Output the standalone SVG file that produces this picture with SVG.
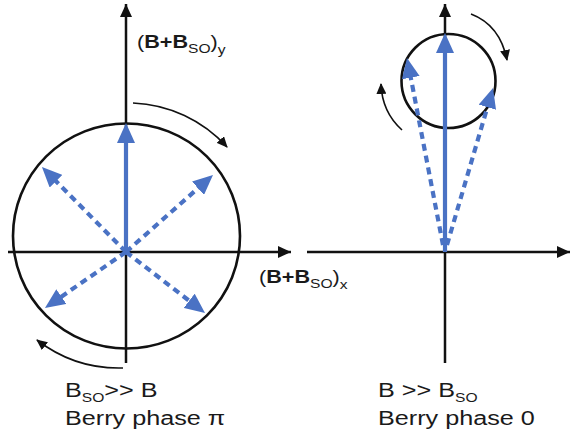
<svg xmlns="http://www.w3.org/2000/svg" width="571" height="440" viewBox="0 0 571 440">
<defs>
<style>
.ax{stroke:#111;stroke-width:2.5;fill:none}
.circ{stroke:#111;stroke-width:2.6;fill:none}
.vec{stroke:#4a72c4;stroke-width:4.2;fill:none}
.dash{stroke:#4a72c4;stroke-width:4.2;fill:none;stroke-dasharray:7 5}
.rot{stroke:#111;stroke-width:1.6;fill:none}
text{font-family:"Liberation Sans",Arial,sans-serif;fill:#1a1a1a}
.lbl{font-size:18px}
.big{font-size:21px}
.b{font-weight:bold}
</style>
<marker id="axh" markerUnits="userSpaceOnUse" markerWidth="14" markerHeight="12" refX="13" refY="6" orient="auto"><path d="M0,0 L13,6 L0,12 z" fill="#111"/></marker>
<marker id="bh" markerUnits="userSpaceOnUse" markerWidth="21" markerHeight="18" refX="10" refY="9" orient="auto"><path d="M0,0 L20,9 L0,18 z" fill="#4a72c4"/></marker>
<marker id="rh" markerUnits="userSpaceOnUse" markerWidth="12" markerHeight="10" refX="10" refY="5" orient="auto"><path d="M0,0 L11,5 L0,10 z" fill="#111"/></marker>
</defs>

<g id="left-panel">
  <g id="left-axes">
    <line class="ax" x1="126" y1="363" x2="126" y2="4" marker-end="url(#axh)"/>
    <line class="ax" x1="8" y1="252" x2="291" y2="252" marker-end="url(#axh)"/>
  </g>
  <g id="left-circle"><ellipse class="circ" cx="126.5" cy="236" rx="113.5" ry="112.5"/></g>
  <g id="left-vectors">
    <line class="vec" x1="126" y1="252" x2="126" y2="133" marker-end="url(#bh)"/>
    <line class="dash" x1="126" y1="252" x2="49" y2="174.1" marker-end="url(#bh)"/>
    <line class="dash" x1="126" y1="252" x2="205.5" y2="181.6" marker-end="url(#bh)"/>
    <line class="dash" x1="126" y1="252" x2="53.2" y2="302.3" marker-end="url(#bh)"/>
    <line class="dash" x1="126" y1="252" x2="197.1" y2="306.9" marker-end="url(#bh)"/>
  </g>
  <g id="left-rotation">
    <path class="rot" d="M133,103 A134,134 0 0 1 227,147" marker-end="url(#rh)"/>
    <path class="rot" d="M123,368 A134,134 0 0 1 37,340" marker-end="url(#rh)"/>
  </g>
  <g id="left-labels">
    <text class="lbl" transform="translate(137,48) scale(1.2,1)">(<tspan class="b">B+B</tspan><tspan font-size="13" dy="5">SO</tspan><tspan dy="-5">)</tspan><tspan font-size="13" dy="6">y</tspan></text>
    <text class="lbl" transform="translate(259,283) scale(1.2,1)">(<tspan class="b">B+B</tspan><tspan font-size="13" dy="5">SO</tspan><tspan dy="-5">)</tspan><tspan font-size="13" dy="6">x</tspan></text>
    <text class="big" transform="translate(65,397) scale(1.2,1)">B<tspan font-size="13" dy="5">SO</tspan><tspan dy="-5">&gt;&gt; B</tspan></text>
    <text class="big" transform="translate(65,425) scale(1.2,1)">Berry phase π</text>
  </g>
</g>

<g id="right-panel">
  <g id="right-axes">
    <line class="ax" x1="445" y1="363" x2="445" y2="4" marker-end="url(#axh)"/>
    <line class="ax" x1="307" y1="252" x2="570" y2="252" marker-end="url(#axh)"/>
  </g>
  <g id="right-circle"><circle class="circ" cx="448.5" cy="81" r="47"/></g>
  <g id="right-vectors">
    <line class="vec" x1="445" y1="252" x2="445" y2="43" marker-end="url(#bh)"/>
    <line class="dash" x1="443" y1="245" x2="408.9" y2="67.8" marker-end="url(#bh)"/>
    <line class="dash" x1="447" y1="245" x2="490.2" y2="97.6" marker-end="url(#bh)"/>
  </g>
  <g id="right-rotation">
    <path class="rot" d="M471,14 Q500,25 507,60" marker-end="url(#rh)"/>
    <path class="rot" d="M402,130 Q382,112 381,84" marker-end="url(#rh)"/>
  </g>
  <g id="right-labels">
    <text class="big" transform="translate(378,397) scale(1.2,1)">B &gt;&gt; B<tspan font-size="13" dy="5">SO</tspan></text>
    <text class="big" transform="translate(378,425) scale(1.2,1)">Berry phase 0</text>
  </g>
</g>
</svg>
